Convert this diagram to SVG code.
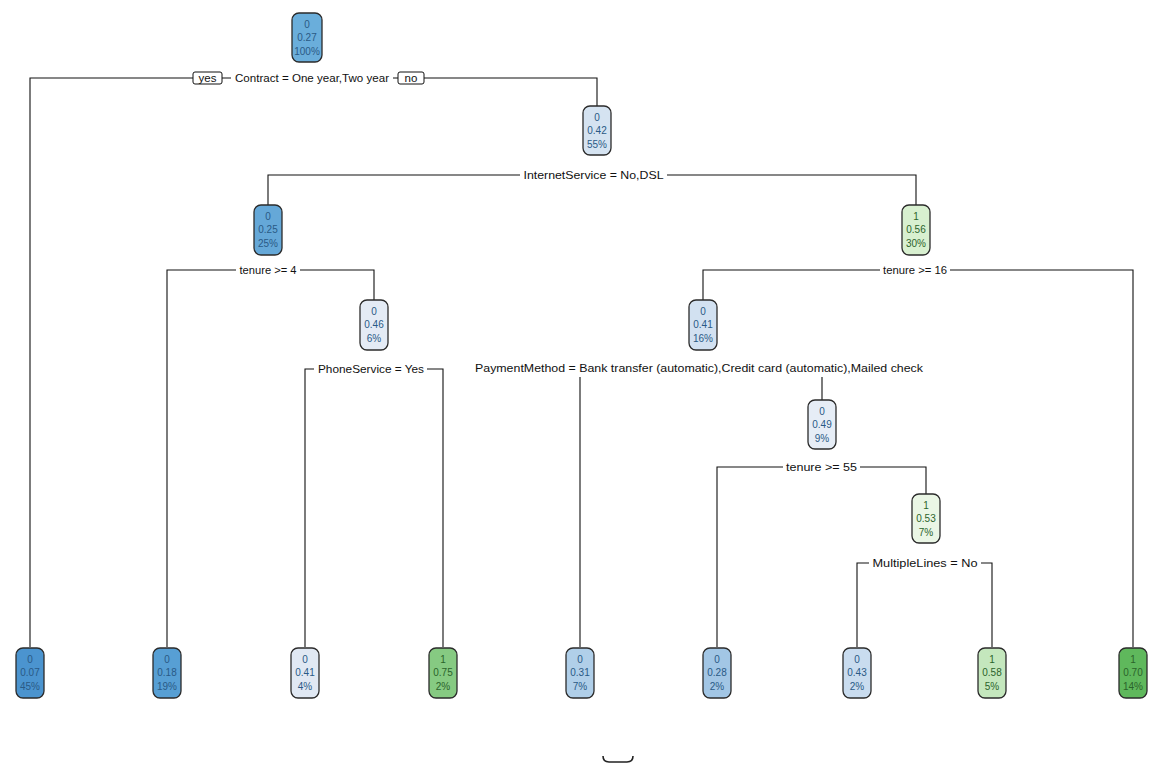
<svg xmlns="http://www.w3.org/2000/svg" width="1158" height="764" viewBox="0 0 1158 764">
<style>
.bg{fill:#ffffff}
.box{stroke:#2b2b2b;stroke-width:1.3}
.nt{font-family:"Liberation Sans",Arial,sans-serif;font-size:10px;text-anchor:middle}
.b{fill:#2a5a86}
.g{fill:#2b632b}
.sl{font-family:"Liberation Sans",Arial,sans-serif;font-size:11.5px;text-anchor:middle;fill:#111}
.ln{stroke:#111;stroke-width:1.1;fill:none}
.yn{fill:#fff;stroke:#111;stroke-width:1}
</style>
<rect class="bg" width="1158" height="764"/>
<g id="connectors">
  <path class="ln" d="M30 647 V78 H193 M222 78 H231 M393 78 H398 M424 78 H597 V106"/>
  <path class="ln" d="M268 205 V175 H520 M667 175 H916 V205"/>
  <path class="ln" d="M167 647 V270 H236 M300 270 H374 V300"/>
  <path class="ln" d="M305 647 V369 H314 M427 369 H443 V647"/>
  <path class="ln" d="M703 300 V270 H880 M950 270 H1133 V647"/>
  <path class="ln" d="M580 647 V377 M822 377 V400"/>
  <path class="ln" d="M717 647 V467 H783 M860 467 H926 V494"/>
  <path class="ln" d="M857 647 V563 H869 M981 563 H992 V647"/>
  <rect class="yn" x="193" y="72" width="29" height="12" rx="2"/>
  <rect class="yn" x="398" y="72" width="26" height="12" rx="2"/>
  <text class="sl" x="207.5" y="81.5" font-size="8.5">yes</text>
  <text class="sl" x="411" y="81.5" font-size="8.5">no</text>
  <text class="sl" x="312" y="82" textLength="154" lengthAdjust="spacingAndGlyphs">Contract = One year,Two year</text>
  <text class="sl" x="593.5" y="179" textLength="140" lengthAdjust="spacingAndGlyphs">InternetService = No,DSL</text>
  <text class="sl" x="268" y="274" textLength="57" lengthAdjust="spacingAndGlyphs">tenure &gt;= 4</text>
  <text class="sl" x="371" y="373" textLength="106" lengthAdjust="spacingAndGlyphs">PhoneService = Yes</text>
  <text class="sl" x="915" y="274" textLength="64" lengthAdjust="spacingAndGlyphs">tenure &gt;= 16</text>
  <text class="sl" x="699" y="372" textLength="448" lengthAdjust="spacingAndGlyphs">PaymentMethod = Bank transfer (automatic),Credit card (automatic),Mailed check</text>
  <text class="sl" x="821.5" y="471" textLength="71" lengthAdjust="spacingAndGlyphs">tenure &gt;= 55</text>
  <text class="sl" x="925" y="567" textLength="105" lengthAdjust="spacingAndGlyphs">MultipleLines = No</text>
</g>
<g id="n1"><rect class="box" x="292" y="13" width="30" height="49" rx="7" fill="#6aaedb"/><text class="nt b" x="307" y="28">0</text><text class="nt b" x="307" y="41">0.27</text><text class="nt b" x="307" y="55">100%</text></g>
<g id="n2"><rect class="box" x="583" y="106" width="28" height="49" rx="7" fill="#d5e3f1"/><text class="nt b" x="597" y="121">0</text><text class="nt b" x="597" y="134">0.42</text><text class="nt b" x="597" y="148">55%</text></g>
<g id="n3"><rect class="box" x="254" y="205" width="28" height="50" rx="7" fill="#65a8d8"/><text class="nt b" x="268" y="220">0</text><text class="nt b" x="268" y="233">0.25</text><text class="nt b" x="268" y="247">25%</text></g>
<g id="n4"><rect class="box" x="902" y="205" width="28" height="50" rx="7" fill="#d8f0d0"/><text class="nt g" x="916" y="220">1</text><text class="nt g" x="916" y="233">0.56</text><text class="nt g" x="916" y="247">30%</text></g>
<g id="n5"><rect class="box" x="360" y="300" width="28" height="50" rx="7" fill="#e4ebf5"/><text class="nt b" x="374" y="315">0</text><text class="nt b" x="374" y="328">0.46</text><text class="nt b" x="374" y="342">6%</text></g>
<g id="n6"><rect class="box" x="689" y="300" width="28" height="50" rx="7" fill="#d2e1f1"/><text class="nt b" x="703" y="315">0</text><text class="nt b" x="703" y="328">0.41</text><text class="nt b" x="703" y="342">16%</text></g>
<g id="n7"><rect class="box" x="808" y="400" width="28" height="49" rx="7" fill="#e6edf6"/><text class="nt b" x="822" y="415">0</text><text class="nt b" x="822" y="428">0.49</text><text class="nt b" x="822" y="442">9%</text></g>
<g id="n8"><rect class="box" x="912" y="494" width="28" height="49" rx="7" fill="#eaf6e5"/><text class="nt g" x="926" y="509">1</text><text class="nt g" x="926" y="522">0.53</text><text class="nt g" x="926" y="536">7%</text></g>
<g id="l1"><rect class="box" x="16" y="648" width="28" height="50" rx="7" fill="#4b94cf"/><text class="nt b" x="30" y="663">0</text><text class="nt b" x="30" y="676">0.07</text><text class="nt b" x="30" y="690">45%</text></g>
<g id="l2"><rect class="box" x="153" y="648" width="28" height="50" rx="7" fill="#579fd4"/><text class="nt b" x="167" y="663">0</text><text class="nt b" x="167" y="676">0.18</text><text class="nt b" x="167" y="690">19%</text></g>
<g id="l3"><rect class="box" x="291" y="648" width="28" height="50" rx="7" fill="#e0e8f3"/><text class="nt b" x="305" y="663">0</text><text class="nt b" x="305" y="676">0.41</text><text class="nt b" x="305" y="690">4%</text></g>
<g id="l4"><rect class="box" x="429" y="648" width="28" height="50" rx="7" fill="#86ca82"/><text class="nt g" x="443" y="663">1</text><text class="nt g" x="443" y="676">0.75</text><text class="nt g" x="443" y="690">2%</text></g>
<g id="l5"><rect class="box" x="566" y="648" width="28" height="50" rx="7" fill="#b0cfe9"/><text class="nt b" x="580" y="663">0</text><text class="nt b" x="580" y="676">0.31</text><text class="nt b" x="580" y="690">7%</text></g>
<g id="l6"><rect class="box" x="703" y="648" width="28" height="50" rx="7" fill="#a2c6e5"/><text class="nt b" x="717" y="663">0</text><text class="nt b" x="717" y="676">0.28</text><text class="nt b" x="717" y="690">2%</text></g>
<g id="l7"><rect class="box" x="843" y="648" width="28" height="50" rx="7" fill="#c9dcef"/><text class="nt b" x="857" y="663">0</text><text class="nt b" x="857" y="676">0.43</text><text class="nt b" x="857" y="690">2%</text></g>
<g id="l8"><rect class="box" x="978" y="648" width="28" height="50" rx="7" fill="#c4e7bd"/><text class="nt g" x="992" y="663">1</text><text class="nt g" x="992" y="676">0.58</text><text class="nt g" x="992" y="690">5%</text></g>
<g id="l9"><rect class="box" x="1119" y="648" width="28" height="50" rx="7" fill="#5fb85c"/><text class="nt g" x="1133" y="663">1</text><text class="nt g" x="1133" y="676">0.70</text><text class="nt g" x="1133" y="690">14%</text></g>
<path d="M603 756 Q603 762 609 762 L627 762 Q633 762 633 756" fill="none" stroke="#222" stroke-width="1.6"/>
</svg>
